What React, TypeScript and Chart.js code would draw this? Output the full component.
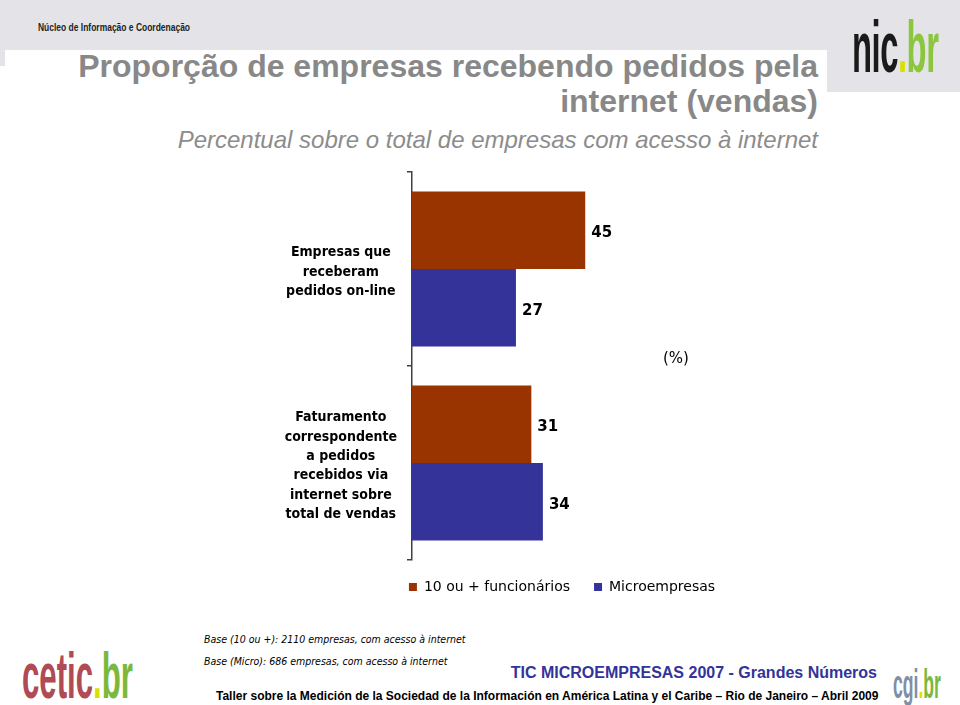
import React, { useEffect, useRef } from "react";
import { Chart, registerables } from "chart.js";

Chart.register(...registerables);

// ---- data ----
const categories: string[][] = [
  ["Empresas que", "receberam", "pedidos on-line"],
  ["Faturamento", "correspondente", "a pedidos", "recebidos via", "internet sobre", "total de vendas"],
];
const seriesNames = ["10 ou + funcionários", "Microempresas"];
const valuesLarge = [45, 31];
const valuesMicro = [27, 34];
const seriesColors = ["#993300", "#333399"];
const xMax = 133;

const valueLabels = {
  id: "valueLabels",
  afterDatasetsDraw(chart: any) {
    const ctx = chart.ctx;
    ctx.save();
    ctx.font = "bold 15px 'DejaVu Sans'";
    ctx.fillStyle = "#000000";
    ctx.textAlign = "left";
    ctx.textBaseline = "middle";
    chart.data.datasets.forEach((ds: any, di: number) => {
      const meta = chart.getDatasetMeta(di);
      meta.data.forEach((bar: any, i: number) => {
        ctx.fillText(String(ds.data[i]), bar.x + 6, bar.y + 3);
      });
    });
    ctx.restore();
  },
};

// nudges the legend a few pixels up towards the chart area
const legendNudge = {
  id: "legendNudge",
  afterLayout(chart: any) {
    if (chart.legend) {
      chart.legend.top -= 4;
      chart.legend.bottom -= 4;
    }
  },
};

function BarChart() {
  const ref = useRef<HTMLCanvasElement | null>(null);
  useEffect(() => {
    if (!ref.current) return;
    const chart = new Chart(ref.current, {
      type: "bar",
      data: {
        labels: categories as any,
        datasets: [
          {
            label: seriesNames[0],
            data: valuesLarge,
            backgroundColor: seriesColors[0],
            borderWidth: 0,
            barPercentage: 1,
            categoryPercentage: 0.8,
          },
          {
            label: seriesNames[1],
            data: valuesMicro,
            backgroundColor: seriesColors[1],
            borderWidth: 0,
            barPercentage: 1,
            categoryPercentage: 0.8,
          },
        ],
      },
      options: {
        indexAxis: "y",
        animation: false,
        responsive: false,
        maintainAspectRatio: false,
        layout: { padding: { top: 12, right: 0, bottom: 0, left: 0 } },
        scales: {
          x: { display: false, min: 0, max: xMax },
          y: {
            afterFit: (s: any) => {
              s.width = 212;
              s.paddingTop = 0;
              s.paddingBottom = 0;
            },
            grid: {
              drawOnChartArea: false,
              drawTicks: true,
              tickLength: 5,
              color: "#404040",
              lineWidth: 1.5,
              offset: true,
            },
            border: { display: true, color: "#404040", width: 1.5 },
            ticks: {
              crossAlign: "center",
              padding: 10,
              labelOffset: 3,
              color: "#000000",
              font: {
                family: "'DejaVu Sans Condensed', 'DejaVu Sans'",
                weight: "bold",
                size: 14,
                lineHeight: 1.38,
              },
            },
          },
        },
        plugins: {
          legend: {
            position: "bottom",
            labels: {
              boxWidth: 8,
              boxHeight: 8,
              padding: 24,
              color: "#000000",
              font: { family: "'DejaVu Sans'", size: 14 },
            },
          },
          tooltip: { enabled: false },
        },
      } as any,
      plugins: [valueLabels, legendNudge],
    });
    return () => chart.destroy();
  }, []);
  return (
    <canvas
      ref={ref}
      width={724}
      height={448}
      style={{ position: "absolute", left: 200, top: 160, width: 724, height: 448 }}
    />
  );
}

const abs = (extra: React.CSSProperties): React.CSSProperties => ({
  position: "absolute",
  whiteSpace: "nowrap",
  ...extra,
});

export default function App() {
  const gray = "#e4e4e8";
  return (
    <div
      style={{
        position: "absolute",
        left: 0,
        top: 0,
        width: 960,
        height: 705,
        overflow: "hidden",
        background: "#ffffff",
        fontFamily: "'Liberation Sans', Arial, sans-serif",
      }}
    >
      {/* header backgrounds */}
      <div style={abs({ left: 0, top: 0, width: 960, height: 50, background: gray })} />
      <div style={abs({ left: 0, top: 0, width: 5, height: 66, background: gray })} />
      <div style={abs({ left: 827, top: 0, width: 133, height: 92, background: gray })} />
      <div
        style={abs({
          left: 5,
          top: 50,
          width: 822,
          height: 60,
          background: "#ffffff",
          borderTopLeftRadius: 18,
          borderTopRightRadius: 18,
        })}
      />

      <div
        style={abs({
          left: 38,
          top: 20,
          fontWeight: "bold",
          fontSize: 11,
          lineHeight: "14px",
          color: "#222222",
          transform: "scaleX(0.77)",
          transformOrigin: "left top",
        })}
      >
        Núcleo de Informação e Coordenação
      </div>

      {/* nic.br logo */}
      <div
        style={abs({
          left: 852,
          top: 11,
          fontWeight: "bold",
          fontSize: 72,
          lineHeight: "72px",
          transform: "scaleX(0.455)",
          transformOrigin: "left top",
          letterSpacing: -1,
        })}
      >
        <span style={{ color: "#1a1a1a" }}>nic</span>
        <span style={{ color: "#d8e000" }}>.</span>
        <span style={{ color: "#8cc63f" }}>br</span>
      </div>

      {/* titles */}
      <div
        style={abs({
          right: 142,
          top: 49,
          fontWeight: "bold",
          fontSize: 32,
          lineHeight: "35px",
          color: "#888888",
          textAlign: "right",
        })}
      >
        Proporção de empresas recebendo pedidos pela
        <br />
        internet (vendas)
      </div>
      <div
        style={abs({
          right: 142,
          top: 126,
          fontStyle: "italic",
          fontSize: 24,
          lineHeight: "28px",
          color: "#8c8c8c",
        })}
      >
        Percentual sobre o total de empresas com acesso à internet
      </div>

      <BarChart />

      <div
        style={abs({
          left: 663,
          top: 349,
          fontFamily: "'DejaVu Sans'",
          fontSize: 15,
          lineHeight: "18px",
          color: "#000000",
        })}
      >
        (%)
      </div>

      {/* footer */}
      <div
        style={abs({
          left: 204,
          top: 631,
          fontFamily: "'DejaVu Sans Condensed', 'DejaVu Sans'",
          fontStyle: "italic",
          fontSize: 10.5,
          lineHeight: "16px",
          color: "#000000",
        })}
      >
        Base (10 ou +): 2110 empresas, com acesso à internet
      </div>
      <div
        style={abs({
          left: 204,
          top: 653,
          fontFamily: "'DejaVu Sans Condensed', 'DejaVu Sans'",
          fontStyle: "italic",
          fontSize: 10.5,
          lineHeight: "16px",
          color: "#000000",
        })}
      >
        Base (Micro): 686 empresas, com acesso à internet
      </div>
      <div
        style={abs({
          right: 83,
          top: 663,
          fontWeight: "bold",
          fontSize: 16,
          lineHeight: "20px",
          color: "#333399",
        })}
      >
        TIC MICROEMPRESAS 2007 - Grandes Números
      </div>
      <div
        style={abs({
          left: 216,
          top: 688,
          fontWeight: "bold",
          fontSize: 12,
          lineHeight: "16px",
          color: "#000000",
        })}
      >
        Taller sobre la Medición de la Sociedad de la Información en América Latina y el Caribe – Rio de Janeiro – Abril 2009
      </div>

      {/* cetic.br logo */}
      <div
        style={abs({
          left: 22,
          top: 643,
          fontWeight: "bold",
          fontSize: 65,
          lineHeight: "65px",
          transform: "scaleX(0.48)",
          transformOrigin: "left top",
        })}
      >
        <span style={{ color: "#b04a55" }}>cetic</span>
        <span style={{ color: "#d8e000" }}>.</span>
        <span style={{ color: "#7cb83a" }}>br</span>
      </div>

      {/* cgi.br logo */}
      <div
        style={abs({
          left: 893,
          top: 664,
          fontWeight: "bold",
          fontSize: 40,
          lineHeight: "40px",
          transform: "scaleX(0.44)",
          transformOrigin: "left top",
        })}
      >
        <span style={{ color: "#7f8fa6" }}>cgi</span>
        <span style={{ color: "#d8e000" }}>.</span>
        <span style={{ color: "#7cb83a" }}>br</span>
      </div>
    </div>
  );
}
